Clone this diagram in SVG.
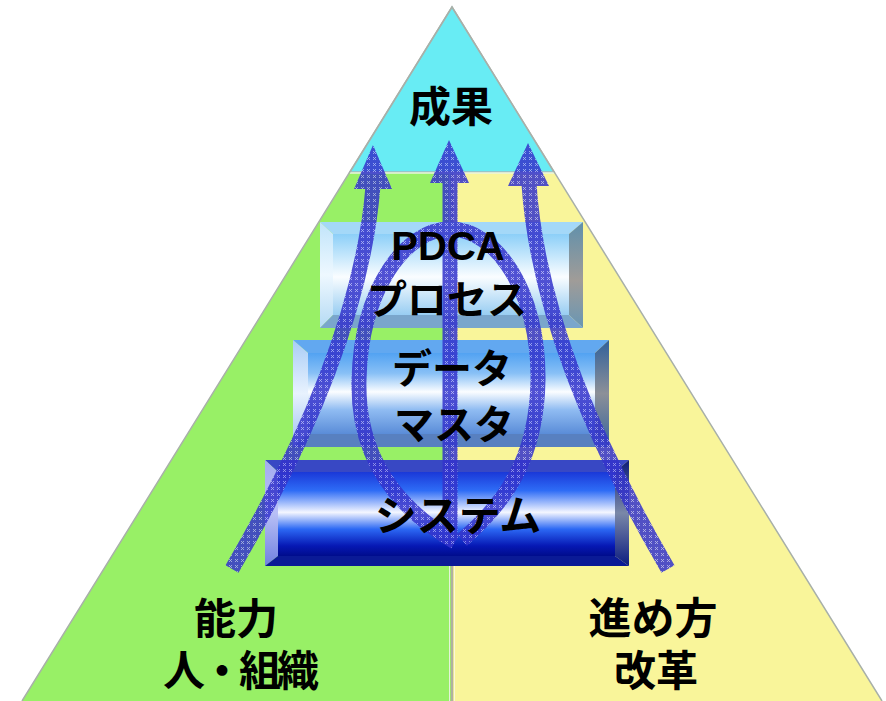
<svg xmlns="http://www.w3.org/2000/svg" width="886" height="701" viewBox="0 0 886 701">
<style>
.jp{font-family:"Noto Sans CJK JP","Noto Sans CJK SC",sans-serif;font-weight:bold;fill:#000;text-anchor:middle;dominant-baseline:central}
.jb{font-family:"Liberation Sans","Noto Sans CJK JP","Noto Sans CJK SC",sans-serif;font-weight:bold;fill:#000;text-anchor:middle}
.en{font-family:"Liberation Sans",Arial,sans-serif;font-weight:bold;fill:#000;text-anchor:middle}
.arr{fill:none;stroke:url(#hatch);stroke-width:15;stroke-linecap:butt}
.head{fill:url(#hatch)}
</style>
<defs>
<pattern id="hatch" width="6" height="6" patternUnits="userSpaceOnUse">
<rect width="6" height="6" fill="#3434cc"/>
<path d="M1 1L4 4M4 1L1 4" stroke="#a8a8f2" stroke-width="0.9"/>
</pattern>
<linearGradient id="f1" x1="0" y1="0" x2="0" y2="1">
<stop offset="0" stop-color="#8ccff8"/><stop offset="0.53" stop-color="#fafdff"/><stop offset="1" stop-color="#98cdf2"/>
</linearGradient>
<linearGradient id="r1" x1="0" y1="0" x2="0" y2="1">
<stop offset="0" stop-color="#5f90ac"/><stop offset="0.55" stop-color="#a09c98"/><stop offset="1" stop-color="#6896b4"/>
</linearGradient>
<linearGradient id="l1" x1="0" y1="0" x2="0" y2="1">
<stop offset="0" stop-color="#c0e4fa"/><stop offset="0.5" stop-color="#eef8ff"/><stop offset="1" stop-color="#b4daf4"/>
</linearGradient>
<linearGradient id="f2" x1="0" y1="0" x2="0" y2="1">
<stop offset="0" stop-color="#52a2f2"/><stop offset="0.25" stop-color="#88c0f6"/><stop offset="0.48" stop-color="#fbfdff"/><stop offset="0.7" stop-color="#90bcf2"/><stop offset="1" stop-color="#5a8cd8"/>
</linearGradient>
<linearGradient id="r2" x1="0" y1="0" x2="0" y2="1">
<stop offset="0" stop-color="#30609a"/><stop offset="0.5" stop-color="#8c9098"/><stop offset="1" stop-color="#36649c"/>
</linearGradient>
<linearGradient id="l2" x1="0" y1="0" x2="0" y2="1">
<stop offset="0" stop-color="#a8ccf6"/><stop offset="0.5" stop-color="#e8f2fe"/><stop offset="1" stop-color="#9cc0f0"/>
</linearGradient>
<linearGradient id="f3" x1="0" y1="0" x2="0" y2="1">
<stop offset="0" stop-color="#1a38d8"/><stop offset="0.22" stop-color="#2e6cf6"/><stop offset="0.48" stop-color="#f4f6ff"/><stop offset="0.68" stop-color="#2c68f4"/><stop offset="0.88" stop-color="#0618b4"/><stop offset="1" stop-color="#000c8c"/>
</linearGradient>
<linearGradient id="r3" x1="0" y1="0" x2="0" y2="1">
<stop offset="0" stop-color="#0c1c78"/><stop offset="0.5" stop-color="#7a88a8"/><stop offset="1" stop-color="#0c1c80"/>
</linearGradient>
<linearGradient id="l3" x1="0" y1="0" x2="0" y2="1">
<stop offset="0" stop-color="#a4acf0"/><stop offset="0.5" stop-color="#b8c0f6"/><stop offset="1" stop-color="#7080e0"/>
</linearGradient>
</defs>

<g id="pyramid">
<polygon points="350,172 452,172 452,701 22,701" fill="#98f066"/>
<polygon points="452,172 554,172 882,701 452,701" fill="#f9f59a"/>
<polygon points="452,7 554,172 350,172" fill="#68ecf4" stroke="#a8b8b8" stroke-width="1.5"/>
<line x1="350" y1="173" x2="554" y2="173" stroke="#e8f4e0" stroke-width="1.5"/>
<line x1="452" y1="174" x2="452" y2="701" stroke="#b0b0a0" stroke-width="2.5"/>
<line x1="449.5" y1="174" x2="449.5" y2="701" stroke="#e4f4d8" stroke-width="1"/>
<line x1="454.5" y1="174" x2="454.5" y2="701" stroke="#fbf8d8" stroke-width="1"/>
<polyline points="22,701 452,7 882,701" fill="none" stroke="#a8b0a8" stroke-width="1.5"/>
</g>

<g id="box-pdca">
<rect x="333" y="234" width="236" height="81" fill="url(#f1)"/>
<polygon points="320,222 583,222 569,234 333,234" fill="#a4d8f8"/>
<polygon points="320,222 333,234 333,315 320,328" fill="url(#l1)"/>
<polygon points="583,222 583,328 569,315 569,234" fill="url(#r1)"/>
<polygon points="320,328 333,315 569,315 583,328" fill="#7aa6cc"/>
</g>

<g id="box-data">
<rect x="308" y="353" width="287" height="81" fill="url(#f2)"/>
<polygon points="293,340 609,340 595,353 308,353" fill="#62a8f0"/>
<polygon points="293,340 308,353 308,434 293,447" fill="url(#l2)"/>
<polygon points="609,340 609,447 595,434 595,353" fill="url(#r2)"/>
<polygon points="293,447 308,434 595,434 609,447" fill="#5880c0"/>
</g>

<g id="box-system">
<rect x="278" y="472" width="337" height="84" fill="url(#f3)"/>
<polygon points="265,460 629,460 615,472 278,472" fill="#3848c4"/>
<polygon points="265,460 278,472 278,556 265,566" fill="url(#l3)"/>
<polygon points="629,460 629,566 615,556 615,472" fill="url(#r3)"/>
<polygon points="265,566 278,556 615,556 629,566" fill="#0a1a96"/>
</g>

<g id="connectors" opacity="0.85">
<path class="arr" d="M232 569 Q360 350 373 186"/>
<polygon class="head" points="373,145 392,189 354,189"/>
<path class="arr" d="M668 569 Q540 350 529 184"/>
<polygon class="head" points="528,143 549,186 508,186"/>
<path class="arr" d="M450 540 L450 180"/>
<polygon class="head" points="449,140 469,183 430,183"/>
<path class="arr" d="M455 542 C400 510 357 460 359 380 C361 290 405 229 450 229 C495 229 539 290 538 380 C537 460 503 505 462 540"/>
</g>

<g id="labels">
<text class="jp" x="451" y="103" font-size="42">成果</text>
<text class="en" x="448" y="260" font-size="40">PDCA</text>
<text class="jp" x="447" y="297" font-size="40">プロセス</text>
<text class="jp" x="452" y="366" font-size="40">データ</text>
<text class="jp" x="454" y="422" font-size="40">マスタ</text>
<text class="jp" x="458" y="512" font-size="42">システム</text>
<text class="jb" x="236" y="634" font-size="42">能力</text>
<text class="jb" x="241" y="686" font-size="42" textLength="156" lengthAdjust="spacing">人・組織</text>
<text class="jb" x="653" y="634" font-size="43">進め方</text>
<text class="jb" x="656" y="686" font-size="42">改革</text>
</g>
</svg>
